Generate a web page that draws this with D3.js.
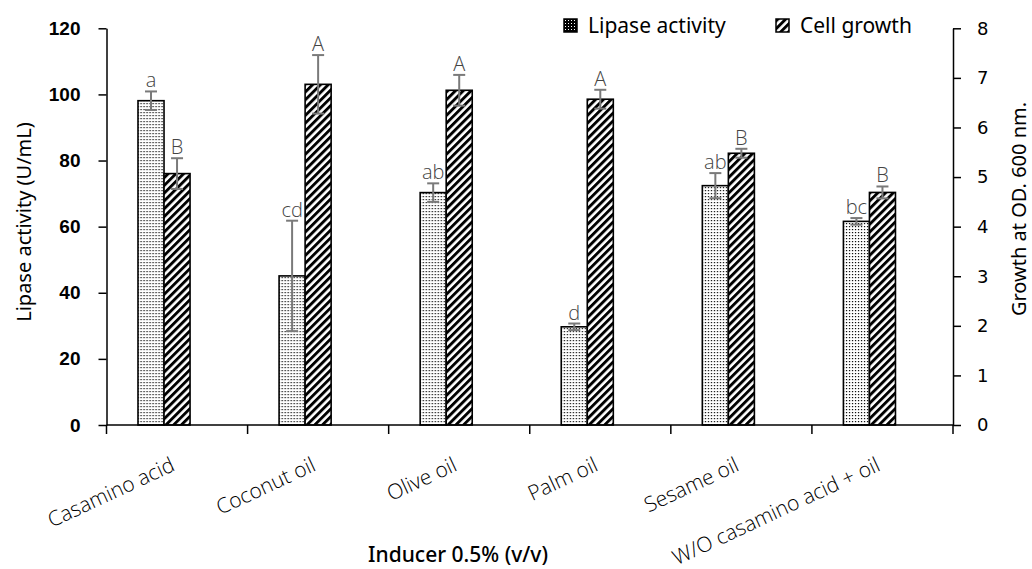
<!DOCTYPE html>
<meta charset='utf-8'>
<title>Lipase activity and cell growth by inducer</title>
<style>
html, body { margin: 0; padding: 0; background: #fff; }
svg text { fill: #000; }
</style>
<script src='https://d3js.org/d3.v7.min.js'></script>
<body>
<div id='chart'></div>
<script>
// Data
var categories = ['Casamino acid', 'Coconut oil', 'Olive oil', 'Palm oil', 'Sesame oil', 'W/O casamino acid + oil'];
var lipase = [98.1, 45.1, 70.3, 29.7, 72.4, 61.6];
var lipaseErr = [2.8, 16.7, 2.8, 1.0, 3.8, 1.0];
var lipaseLetters = ['a', 'cd', 'ab', 'd', 'ab', 'bc'];
var growth = [5.07, 6.87, 6.75, 6.57, 5.48, 4.69];
var growthErr = [0.31, 0.59, 0.31, 0.19, 0.09, 0.12];
var growthLetters = ['B', 'A', 'A', 'A', 'B', 'B'];
var leftTicks = [0, 20, 40, 60, 80, 100, 120];
var rightTicks = [0, 1, 2, 3, 4, 5, 6, 7, 8];

var W = 1032, H = 569;
// plot edges ("top" is taken by window.top, so prefix them)
var plotLeft = 106.5, plotRight = 953, plotTop = 28.3, plotBottom = 425;

// Fonts
var tickFont = '"DejaVu Sans", Verdana, sans-serif';
var boldTickFont = '"Liberation Sans", Arial, sans-serif';
var labelFont = '"Noto Sans", "Open Sans", sans-serif';
var thinFont = '"Open Sans", "Noto Sans", sans-serif';
var errColor = '#7a7a7a';
var letterColor = '#444';

var svg = d3.select('#chart').append('svg')
  .attr('width', W)
  .attr('height', H);

// Patterns
var defs = svg.append('defs');
var dots = defs.append('pattern')
  .attr('id', 'dots')
  .attr('patternUnits', 'userSpaceOnUse')
  .attr('width', 3).attr('height', 3);
dots.append('rect').attr('width', 3).attr('height', 3).attr('fill', '#fff');
dots.append('rect').attr('x', 1).attr('y', 1).attr('width', 1.2).attr('height', 1.2).attr('fill', '#000');

var stripes = defs.append('pattern')
  .attr('id', 'stripes')
  .attr('patternUnits', 'userSpaceOnUse')
  .attr('width', 5.5).attr('height', 5.5)
  .attr('patternTransform', 'rotate(45)');
stripes.append('rect').attr('width', 5.5).attr('height', 5.5).attr('fill', '#fff');
stripes.append('rect').attr('width', 2.9).attr('height', 5.5).attr('fill', '#000');

// Legend swatch for lipase: dark with white dots
var dotsInv = defs.append('pattern')
  .attr('id', 'dotsInv')
  .attr('patternUnits', 'userSpaceOnUse')
  .attr('width', 3).attr('height', 3);
dotsInv.append('rect').attr('width', 3).attr('height', 3).attr('fill', '#000');
dotsInv.append('rect').attr('x', 1).attr('y', 1).attr('width', 1).attr('height', 1).attr('fill', '#fff');

// Scales
var x0 = d3.scaleBand().domain(categories).range([plotLeft, plotRight]).padding(0);
// Excel left room for a third (empty) slot in each cluster
var x1 = d3.scaleBand().domain(['lipase', 'growth', 'spare'])
  .range([0, x0.bandwidth()]).paddingInner(0).paddingOuter(1.21);
var yL = d3.scaleLinear().domain([0, 120]).range([plotBottom, plotTop]);
var yR = d3.scaleLinear().domain([0, 8]).range([plotBottom, plotTop]);

var rows = categories.map(function (c, i) {
  return {
    cat: c, lip: lipase[i], lipE: lipaseErr[i], lipT: lipaseLetters[i],
    gro: growth[i], groE: growthErr[i], groT: growthLetters[i]
  };
});

var groups = svg.selectAll('g.cat')
  .data(rows)
  .enter().append('g')
  .attr('class', 'cat')
  .attr('transform', function (d) { return 'translate(' + x0(d.cat) + ',0)'; });

// Lipase bars
groups.append('rect')
  .attr('x', x1('lipase'))
  .attr('width', x1.bandwidth())
  .attr('y', function (d) { return yL(d.lip); })
  .attr('height', function (d) { return plotBottom - yL(d.lip); })
  .attr('fill', 'url(#dots)')
  .attr('stroke', '#000')
  .attr('stroke-width', 1.6);

// Growth bars
groups.append('rect')
  .attr('x', x1('growth'))
  .attr('width', x1.bandwidth())
  .attr('y', function (d) { return yR(d.gro); })
  .attr('height', function (d) { return plotBottom - yR(d.gro); })
  .attr('fill', 'url(#stripes)')
  .attr('stroke', '#000')
  .attr('stroke-width', 1.6);

// Error bars
function errorBar(sel, cx, scale, val, err) {
  sel.append('line')
    .attr('x1', cx).attr('x2', cx)
    .attr('y1', function (d) { return scale(val(d) - err(d)); })
    .attr('y2', function (d) { return scale(val(d) + err(d)); })
    .attr('stroke', errColor).attr('stroke-width', 2);
  [-1, 1].forEach(function (s) {
    sel.append('line')
      .attr('x1', cx - 6).attr('x2', cx + 6)
      .attr('y1', function (d) { return scale(val(d) + s * err(d)); })
      .attr('y2', function (d) { return scale(val(d) + s * err(d)); })
      .attr('stroke', errColor).attr('stroke-width', 2);
  });
}
var cxL = x1('lipase') + x1.bandwidth() / 2;
var cxG = x1('growth') + x1.bandwidth() / 2;
errorBar(groups, cxL, yL, function (d) { return d.lip; }, function (d) { return d.lipE; });
errorBar(groups, cxG, yR, function (d) { return d.gro; }, function (d) { return d.groE; });

// Significance letters
groups.append('text')
  .attr('x', cxL)
  .attr('y', function (d) { return yL(d.lip + d.lipE) - 4; })
  .attr('text-anchor', 'middle')
  .attr('font-family', thinFont)
  .attr('font-weight', 300)
  .attr('font-size', 20)
  .style('fill', letterColor)
  .text(function (d) { return d.lipT; });
groups.append('text')
  .attr('x', cxG)
  .attr('y', function (d) { return yR(d.gro + d.groE) - 4; })
  .attr('text-anchor', 'middle')
  .attr('font-family', thinFont)
  .attr('font-weight', 300)
  .attr('font-size', 20)
  .style('fill', letterColor)
  .text(function (d) { return d.groT; });

// Left axis
var axL = svg.append('g')
  .attr('transform', 'translate(' + plotLeft + ',0)')
  .call(d3.axisLeft(yL).tickValues(leftTicks).tickSize(8).tickPadding(18).tickSizeOuter(0));
axL.selectAll('text').attr('font-family', boldTickFont).attr('font-weight', 'bold').attr('font-size', 19);

// Right axis
var axR = svg.append('g')
  .attr('transform', 'translate(' + plotRight + ',0)')
  .call(d3.axisRight(yR).tickValues(rightTicks).tickSize(8).tickPadding(16).tickSizeOuter(0));
axR.selectAll('text').attr('font-family', tickFont).attr('font-size', 18);

// X axis with category separators
var axX = svg.append('g').attr('transform', 'translate(0,' + plotBottom + ')');
axX.append('line').attr('x1', plotLeft).attr('x2', plotRight).attr('stroke', '#000').attr('stroke-width', 1.5);
axX.selectAll('line.sep')
  .data(categories.concat(['end']))
  .enter().append('line')
  .attr('class', 'sep')
  .attr('x1', function (d, i) { return plotLeft + i * x0.step(); })
  .attr('x2', function (d, i) { return plotLeft + i * x0.step(); })
  .attr('y1', 0).attr('y2', 9)
  .attr('stroke', '#000').attr('stroke-width', 1.5);

svg.selectAll('.domain, .tick line').attr('stroke', '#000').attr('stroke-width', 1.5);

// Category labels
svg.selectAll('text.catlabel')
  .data(categories)
  .enter().append('text')
  .attr('class', 'catlabel')
  .attr('text-anchor', 'end')
  .attr('font-family', thinFont)
  .attr('font-weight', 300)
  .attr('font-size', 21)
  .attr('transform', function (d) {
    return 'translate(' + (x0(d) + x0.bandwidth() / 2 - 1) + ',' + (plotBottom + 45) + ') rotate(-25)';
  })
  .text(function (d) { return d; });

// Axis titles
svg.append('text')
  .attr('transform', 'translate(31,' + 222 + ') rotate(-90)')
  .attr('text-anchor', 'middle')
  .attr('font-family', labelFont)
  .attr('font-size', 20)
  .text('Lipase activity (U/mL)');

svg.append('text')
  .attr('transform', 'translate(1026,' + 209 + ') rotate(-90)')
  .attr('text-anchor', 'middle')
  .attr('font-family', labelFont)
  .attr('font-size', 20)
  .text('Growth at OD. 600 nm.');

svg.append('text')
  .attr('x', 458)
  .attr('y', 562)
  .attr('text-anchor', 'middle')
  .attr('font-family', labelFont)
  .attr('font-weight', 500)
  .attr('font-size', 21)
  .text('Inducer 0.5% (v/v)');

// Legend
var legend = [
  { name: 'Lipase activity', fill: 'url(#dotsInv)', x: 564 },
  { name: 'Cell growth', fill: 'url(#stripes)', x: 776 }
];
var lg = svg.selectAll('g.legend')
  .data(legend)
  .enter().append('g')
  .attr('class', 'legend')
  .attr('transform', function (d) { return 'translate(' + d.x + ',19)'; });
lg.append('rect')
  .attr('width', 13).attr('height', 13)
  .attr('fill', function (d) { return d.fill; })
  .attr('stroke', '#000').attr('stroke-width', 1.5);
lg.append('text')
  .attr('x', 24).attr('y', 14)
  .attr('font-family', labelFont)
  .attr('font-size', 21)
  .text(function (d) { return d.name; });
</script>
</body>
